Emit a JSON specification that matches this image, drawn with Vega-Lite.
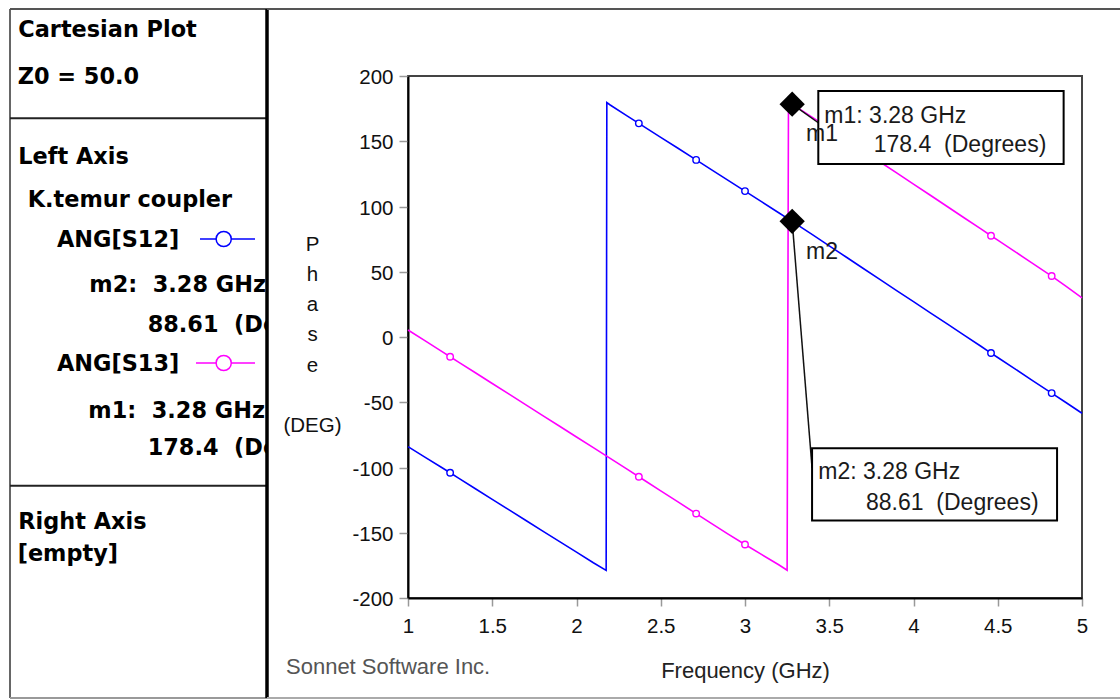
{
  "$schema": "https://vega.github.io/schema/vega-lite/v6.json",
  "padding": {"left": 9, "top": 7, "right": 0, "bottom": 0},
  "background": "white",
  "config": {"view": {"stroke": null}, "concat": {"spacing": 0}, "font": "Liberation Sans"},
  "datasets": {
    "curves": [
      {"freq":1.0,"phase":-84.0,"series":"ANG[S12]","sym":0},{"freq":1.1,"phase":-92.0,"series":"ANG[S12]","sym":0},{"freq":1.2,"phase":-100.0,"series":"ANG[S12]","sym":0},{"freq":1.25,"phase":-104.0,"series":"ANG[S12]","sym":1},{"freq":1.3,"phase":-108.1,"series":"ANG[S12]","sym":0},{"freq":1.4,"phase":-116.3,"series":"ANG[S12]","sym":0},{"freq":1.5,"phase":-124.4,"series":"ANG[S12]","sym":0},{"freq":1.6,"phase":-132.5,"series":"ANG[S12]","sym":0},{"freq":1.7,"phase":-140.6,"series":"ANG[S12]","sym":0},{"freq":1.8,"phase":-148.7,"series":"ANG[S12]","sym":0},{"freq":1.9,"phase":-156.8,"series":"ANG[S12]","sym":0},{"freq":2.0,"phase":-164.9,"series":"ANG[S12]","sym":0},{"freq":2.1,"phase":-173.0,"series":"ANG[S12]","sym":0},{"freq":2.176,"phase":-178.8,"series":"ANG[S12]","sym":0},{"freq":2.18,"phase":179.6,"series":"ANG[S12]","sym":0},{"freq":2.2,"phase":177.8,"series":"ANG[S12]","sym":0},{"freq":2.3,"phase":169.5,"series":"ANG[S12]","sym":0},{"freq":2.37,"phase":163.7,"series":"ANG[S12]","sym":1},{"freq":2.4,"phase":161.2,"series":"ANG[S12]","sym":0},{"freq":2.5,"phase":153.0,"series":"ANG[S12]","sym":0},{"freq":2.6,"phase":144.8,"series":"ANG[S12]","sym":0},{"freq":2.71,"phase":135.7,"series":"ANG[S12]","sym":1},{"freq":2.8,"phase":128.3,"series":"ANG[S12]","sym":0},{"freq":2.9,"phase":120.0,"series":"ANG[S12]","sym":0},{"freq":3.0,"phase":111.8,"series":"ANG[S12]","sym":1},{"freq":3.1,"phase":103.5,"series":"ANG[S12]","sym":0},{"freq":3.2,"phase":95.2,"series":"ANG[S12]","sym":0},{"freq":3.28,"phase":88.61,"series":"ANG[S12]","sym":0},{"freq":3.3,"phase":86.9,"series":"ANG[S12]","sym":0},{"freq":3.4,"phase":78.4,"series":"ANG[S12]","sym":0},{"freq":3.5,"phase":69.8,"series":"ANG[S12]","sym":0},{"freq":3.6,"phase":61.3,"series":"ANG[S12]","sym":0},{"freq":3.7,"phase":52.7,"series":"ANG[S12]","sym":0},{"freq":3.8,"phase":44.2,"series":"ANG[S12]","sym":0},{"freq":3.9,"phase":35.6,"series":"ANG[S12]","sym":0},{"freq":4.0,"phase":27.1,"series":"ANG[S12]","sym":0},{"freq":4.1,"phase":18.5,"series":"ANG[S12]","sym":0},{"freq":4.2,"phase":10.0,"series":"ANG[S12]","sym":0},{"freq":4.3,"phase":1.4,"series":"ANG[S12]","sym":0},{"freq":4.4,"phase":-7.1,"series":"ANG[S12]","sym":0},{"freq":4.46,"phase":-12.3,"series":"ANG[S12]","sym":1},{"freq":4.5,"phase":-15.7,"series":"ANG[S12]","sym":0},{"freq":4.6,"phase":-24.2,"series":"ANG[S12]","sym":0},{"freq":4.7,"phase":-32.8,"series":"ANG[S12]","sym":0},{"freq":4.82,"phase":-43.0,"series":"ANG[S12]","sym":1},{"freq":4.9,"phase":-49.8,"series":"ANG[S12]","sym":0},{"freq":5.0,"phase":-58.4,"series":"ANG[S12]","sym":0},
      {"freq":1.0,"phase":5.4,"series":"ANG[S13]","sym":0},{"freq":1.1,"phase":-2.8,"series":"ANG[S13]","sym":0},{"freq":1.2,"phase":-11.0,"series":"ANG[S13]","sym":0},{"freq":1.25,"phase":-15.1,"series":"ANG[S13]","sym":1},{"freq":1.3,"phase":-19.2,"series":"ANG[S13]","sym":0},{"freq":1.4,"phase":-27.4,"series":"ANG[S13]","sym":0},{"freq":1.5,"phase":-35.6,"series":"ANG[S13]","sym":0},{"freq":1.6,"phase":-43.8,"series":"ANG[S13]","sym":0},{"freq":1.7,"phase":-52.0,"series":"ANG[S13]","sym":0},{"freq":1.8,"phase":-60.2,"series":"ANG[S13]","sym":0},{"freq":1.9,"phase":-68.4,"series":"ANG[S13]","sym":0},{"freq":2.0,"phase":-76.6,"series":"ANG[S13]","sym":0},{"freq":2.1,"phase":-84.8,"series":"ANG[S13]","sym":0},{"freq":2.2,"phase":-93.0,"series":"ANG[S13]","sym":0},{"freq":2.3,"phase":-101.3,"series":"ANG[S13]","sym":0},{"freq":2.37,"phase":-107.1,"series":"ANG[S13]","sym":1},{"freq":2.4,"phase":-109.6,"series":"ANG[S13]","sym":0},{"freq":2.5,"phase":-117.9,"series":"ANG[S13]","sym":0},{"freq":2.6,"phase":-126.2,"series":"ANG[S13]","sym":0},{"freq":2.71,"phase":-135.3,"series":"ANG[S13]","sym":1},{"freq":2.8,"phase":-142.8,"series":"ANG[S13]","sym":0},{"freq":2.9,"phase":-151.0,"series":"ANG[S13]","sym":0},{"freq":3.0,"phase":-159.0,"series":"ANG[S13]","sym":1},{"freq":3.1,"phase":-166.8,"series":"ANG[S13]","sym":0},{"freq":3.2,"phase":-174.5,"series":"ANG[S13]","sym":0},{"freq":3.25,"phase":-178.7,"series":"ANG[S13]","sym":0},{"freq":3.258,"phase":179.9,"series":"ANG[S13]","sym":0},{"freq":3.28,"phase":178.4,"series":"ANG[S13]","sym":0},{"freq":3.3,"phase":176.7,"series":"ANG[S13]","sym":0},{"freq":3.4,"phase":168.3,"series":"ANG[S13]","sym":0},{"freq":3.5,"phase":159.8,"series":"ANG[S13]","sym":0},{"freq":3.6,"phase":151.3,"series":"ANG[S13]","sym":0},{"freq":3.7,"phase":142.8,"series":"ANG[S13]","sym":0},{"freq":3.8,"phase":134.3,"series":"ANG[S13]","sym":0},{"freq":3.9,"phase":125.8,"series":"ANG[S13]","sym":0},{"freq":4.0,"phase":117.2,"series":"ANG[S13]","sym":0},{"freq":4.1,"phase":108.6,"series":"ANG[S13]","sym":0},{"freq":4.2,"phase":100.0,"series":"ANG[S13]","sym":0},{"freq":4.3,"phase":91.4,"series":"ANG[S13]","sym":0},{"freq":4.4,"phase":82.8,"series":"ANG[S13]","sym":0},{"freq":4.46,"phase":77.6,"series":"ANG[S13]","sym":1},{"freq":4.5,"phase":74.2,"series":"ANG[S13]","sym":0},{"freq":4.6,"phase":65.6,"series":"ANG[S13]","sym":0},{"freq":4.7,"phase":57.0,"series":"ANG[S13]","sym":0},{"freq":4.82,"phase":46.7,"series":"ANG[S13]","sym":1},{"freq":4.9,"phase":39.4,"series":"ANG[S13]","sym":0},{"freq":5.0,"phase":30.0,"series":"ANG[S13]","sym":0}
    ]
  },
  "spacing": 0,
  "bounds": "flush",
  "hconcat": [
    {
      "width": 257,
      "height": 689,
      "layer": [
        {
          "data": {"values": [{"px": 0}]},
          "mark": {"type": "rule", "color": "#333", "strokeWidth": 1.5},
          "encoding": {"x": {"field": "px", "type": "quantitative", "scale": {"domain": [0, 257], "nice": false, "zero": false}, "axis": null}}
        },
        {
          "data": {"values": [{"py": 0}]},
          "mark": {"type": "rule", "color": "#555", "strokeWidth": 2},
          "encoding": {"y": {"field": "py", "type": "quantitative", "scale": {"domain": [0, 689], "reverse": true, "nice": false, "zero": false}, "axis": null}}
        },
        {
          "data": {"values": [{"py": 109.3}, {"py": 476.7}]},
          "mark": {"type": "rule", "color": "#222", "strokeWidth": 2},
          "encoding": {"y": {"field": "py", "type": "quantitative", "scale": {"domain": [0, 689], "reverse": true, "nice": false, "zero": false}, "axis": null}}
        },
        {
          "data": {"values": [{"py": 689}]},
          "mark": {"type": "rule", "color": "#999", "strokeWidth": 2},
          "encoding": {"y": {"field": "py", "type": "quantitative", "scale": {"domain": [0, 689], "reverse": true, "nice": false, "zero": false}, "axis": null}}
        },
        {
          "data": {"values": [
            {"label": "Cartesian Plot", "px": 8.3, "py": 21},
            {"label": "Z0 = 50.0", "px": 7.7, "py": 67.5},
            {"label": "Left Axis", "px": 8.3, "py": 148},
            {"label": "K.temur coupler", "px": 17.7, "py": 191},
            {"label": "ANG[S12]", "px": 47, "py": 231},
            {"label": "m2:\u00a0 3.28 GHz", "px": 79.3, "py": 276},
            {"label": "88.61\u00a0 (Degrees)", "px": 137.7, "py": 316},
            {"label": "ANG[S13]", "px": 47, "py": 355},
            {"label": "m1:\u00a0 3.28 GHz", "px": 78.3, "py": 401.5},
            {"label": "178.4\u00a0 (Degrees)", "px": 137.7, "py": 439},
            {"label": "Right Axis", "px": 8.3, "py": 513},
            {"label": "[empty]", "px": 7.7, "py": 545}
          ]},
          "mark": {"type": "text", "font": "DejaVu Sans", "fontWeight": "bold", "fontSize": 22.4, "align": "left", "baseline": "middle", "color": "#000", "clip": true},
          "encoding": {
            "x": {"field": "px", "type": "quantitative", "scale": {"domain": [0, 257], "nice": false, "zero": false}, "axis": null},
            "y": {"field": "py", "type": "quantitative", "scale": {"domain": [0, 689], "reverse": true, "nice": false, "zero": false}, "axis": null},
            "text": {"field": "label"}
          }
        },
        {
          "data": {"values": [
            {"series": "ANG[S12]", "px": 190, "py": 230},
            {"series": "ANG[S12]", "px": 245, "py": 230},
            {"series": "ANG[S13]", "px": 186, "py": 354},
            {"series": "ANG[S13]", "px": 245, "py": 354}
          ]},
          "mark": {"type": "line", "strokeWidth": 1.5},
          "encoding": {
            "x": {"field": "px", "type": "quantitative", "scale": {"domain": [0, 257], "nice": false, "zero": false}, "axis": null},
            "y": {"field": "py", "type": "quantitative", "scale": {"domain": [0, 689], "reverse": true, "nice": false, "zero": false}, "axis": null},
            "color": {"field": "series", "type": "nominal", "scale": {"domain": ["ANG[S12]", "ANG[S13]"], "range": ["#0000ff", "#ff00ff"]}, "legend": null}
          }
        },
        {
          "data": {"values": [
            {"series": "ANG[S12]", "px": 213.7, "py": 230},
            {"series": "ANG[S13]", "px": 213.7, "py": 354}
          ]},
          "mark": {"type": "point", "shape": "circle", "size": 230, "fill": "white", "fillOpacity": 1, "strokeWidth": 1.5, "opacity": 1},
          "encoding": {
            "x": {"field": "px", "type": "quantitative", "scale": {"domain": [0, 257], "nice": false, "zero": false}, "axis": null},
            "y": {"field": "py", "type": "quantitative", "scale": {"domain": [0, 689], "reverse": true, "nice": false, "zero": false}, "axis": null},
            "stroke": {"field": "series", "type": "nominal", "scale": {"domain": ["ANG[S12]", "ANG[S13]"], "range": ["#0000ff", "#ff00ff"]}, "legend": null}
          }
        },
        {
          "data": {"values": [{"px": 257}]},
          "mark": {"type": "rule", "color": "#000", "strokeWidth": 3.5},
          "encoding": {"x": {"field": "px", "type": "quantitative", "scale": {"domain": [0, 257], "nice": false, "zero": false}, "axis": null}}
        }
      ]
    },
    {
      "width": 141,
      "height": 689,
      "layer": [
        {
          "data": {"values": [{"py": 0}]},
          "mark": {"type": "rule", "color": "#555", "strokeWidth": 2},
          "encoding": {"y": {"field": "py", "type": "quantitative", "scale": {"domain": [0, 689], "reverse": true, "nice": false, "zero": false}, "axis": null}}
        },
        {
          "data": {"values": [{"py": 689}]},
          "mark": {"type": "rule", "color": "#aaa", "strokeWidth": 2},
          "encoding": {"y": {"field": "py", "type": "quantitative", "scale": {"domain": [0, 689], "reverse": true, "nice": false, "zero": false}, "axis": null}}
        },
        {
          "data": {"values": [{"label": "Sonnet Software Inc.", "px": 19, "py": 658.1}]},
          "mark": {"type": "text", "font": "Liberation Sans", "fontSize": 22, "align": "left", "baseline": "middle", "color": "#555"},
          "encoding": {
            "x": {"field": "px", "type": "quantitative", "scale": {"domain": [0, 141], "nice": false, "zero": false}, "axis": null},
            "y": {"field": "py", "type": "quantitative", "scale": {"domain": [0, 689], "reverse": true, "nice": false, "zero": false}, "axis": null},
            "text": {"field": "label"}
          }
        }
      ]
    },
    {
      "spacing": 0,
      "bounds": "flush",
      "vconcat": [
        {
          "width": 713,
          "height": 67,
          "data": {"values": [{"py": 0}]},
          "mark": {"type": "rule", "color": "#555", "strokeWidth": 2},
          "encoding": {"y": {"field": "py", "type": "quantitative", "scale": {"domain": [0, 67], "reverse": true, "nice": false, "zero": false}, "axis": null}}
        },
        {
          "width": 674,
          "height": 522,
          "view": {"stroke": "#444", "strokeWidth": 2},
          "layer": [
            {
              "data": {"name": "curves"},
              "mark": {"type": "line", "strokeWidth": 1.6},
              "encoding": {
                "x": {"field": "freq", "type": "quantitative", "scale": {"domain": [1, 5], "nice": false, "zero": false},
                  "axis": {"values": [1, 1.5, 2, 2.5, 3, 3.5, 4, 4.5, 5], "format": "~g", "grid": false, "labelFlush": false, "labelOverlap": false,
                    "labelFont": "Liberation Sans", "labelFontSize": 20.5, "labelColor": "#111", "labelPadding": 10,
                    "tickColor": "#999", "tickSize": 8, "tickWidth": 1.5, "domainColor": "#000", "domainWidth": 2,
                    "title": "Frequency (GHz)", "titleFont": "Liberation Sans", "titleFontSize": 22, "titleFontWeight": "normal", "titleColor": "#222",
                    "titleY": 72, "titleBaseline": "middle"}},
                "y": {"field": "phase", "type": "quantitative", "scale": {"domain": [-200, 200], "nice": false, "zero": false},
                  "axis": {"values": [-200, -150, -100, -50, 0, 50, 100, 150, 200], "labelExpr": "'' + datum.value", "grid": false, "labelFlush": false, "labelOverlap": false,
                    "labelFont": "Liberation Sans", "labelFontSize": 20.5, "labelColor": "#111", "labelPadding": 6, "labelOffset": 1.5,
                    "tickColor": "#999", "tickSize": 9, "tickWidth": 1.5, "domainColor": "#000", "domainWidth": 2,
                    "title": ["P", "h", "a", "s", "e", "\u2800", "(DEG)"], "titleFont": "Liberation Sans", "titleFontSize": 20.5, "titleFontWeight": "normal", "titleColor": "#111",
                    "titleAngle": 0, "titleAlign": "center", "titleBaseline": "middle", "titleLineHeight": 30.3, "titleX": -96, "titleY": 168}},
                "color": {"field": "series", "type": "nominal", "scale": {"domain": ["ANG[S12]", "ANG[S13]"], "range": ["#0000ff", "#ff00ff"]}, "legend": null}
              }
            },
            {
              "data": {"name": "curves"},
              "transform": [{"filter": "datum.sym == 1"}],
              "mark": {"type": "point", "shape": "circle", "size": 42, "fill": "white", "fillOpacity": 1, "strokeWidth": 1.4, "opacity": 1},
              "encoding": {
                "x": {"field": "freq", "type": "quantitative"},
                "y": {"field": "phase", "type": "quantitative"},
                "stroke": {"field": "series", "type": "nominal", "scale": {"domain": ["ANG[S12]", "ANG[S13]"], "range": ["#0000ff", "#ff00ff"]}, "legend": null}
              }
            },
            {
              "data": {"values": [
                {"freq": 3.28, "phase": 88.61, "freq2": 3.398, "phase2": -100.3},
                {"freq": 3.28, "phase": 178.4, "freq2": 3.441, "phase2": 163.6}
              ]},
              "mark": {"type": "rule", "color": "#111", "strokeWidth": 1.5},
              "encoding": {
                "x": {"field": "freq", "type": "quantitative"},
                "y": {"field": "phase", "type": "quantitative"},
                "x2": {"field": "freq2"},
                "y2": {"field": "phase2"}
              }
            },
            {
              "data": {"values": [
                {"marker": "m1", "freq": 3.28, "phase": 178.4},
                {"marker": "m2", "freq": 3.28, "phase": 88.61}
              ]},
              "mark": {"type": "point", "shape": "diamond", "size": 640, "filled": true, "color": "#000", "opacity": 1},
              "encoding": {
                "x": {"field": "freq", "type": "quantitative"},
                "y": {"field": "phase", "type": "quantitative"}
              }
            },
            {
              "data": {"values": [
                {"marker": "m1", "f1": 3.435, "f2": 4.891, "p1": 188.6, "p2": 132.5},
                {"marker": "m2", "f1": 3.398, "f2": 4.852, "p1": -85.2, "p2": -140.7}
              ]},
              "mark": {"type": "rect", "fill": "white", "stroke": "#000", "strokeWidth": 2},
              "encoding": {
                "x": {"field": "f1", "type": "quantitative"},
                "x2": {"field": "f2"},
                "y": {"field": "p1", "type": "quantitative"},
                "y2": {"field": "p2"}
              }
            },
            {
              "data": {"values": [
                {"label": "m1: 3.28 GHz", "freq": 3.471, "phase": 169.0},
                {"label": "178.4\u00a0 (Degrees)", "freq": 3.764, "phase": 146.8},
                {"label": "m2: 3.28 GHz", "freq": 3.435, "phase": -103.4},
                {"label": "88.61\u00a0 (Degrees)", "freq": 3.718, "phase": -127.1},
                {"label": "m1", "freq": 3.362, "phase": 155.3},
                {"label": "m2", "freq": 3.362, "phase": 64.9}
              ]},
              "mark": {"type": "text", "font": "Liberation Sans", "fontSize": 23, "align": "left", "baseline": "middle", "color": "#1a1a1a"},
              "encoding": {
                "x": {"field": "freq", "type": "quantitative"},
                "y": {"field": "phase", "type": "quantitative"},
                "text": {"field": "label"}
              }
            }
          ]
        },
        {
          "width": 713,
          "height": 100,
          "data": {"values": [{"py": 100}]},
          "mark": {"type": "rule", "color": "#aaa", "strokeWidth": 2},
          "encoding": {"y": {"field": "py", "type": "quantitative", "scale": {"domain": [0, 100], "reverse": true, "nice": false, "zero": false}, "axis": null}}
        }
      ]
    }
  ]
}
